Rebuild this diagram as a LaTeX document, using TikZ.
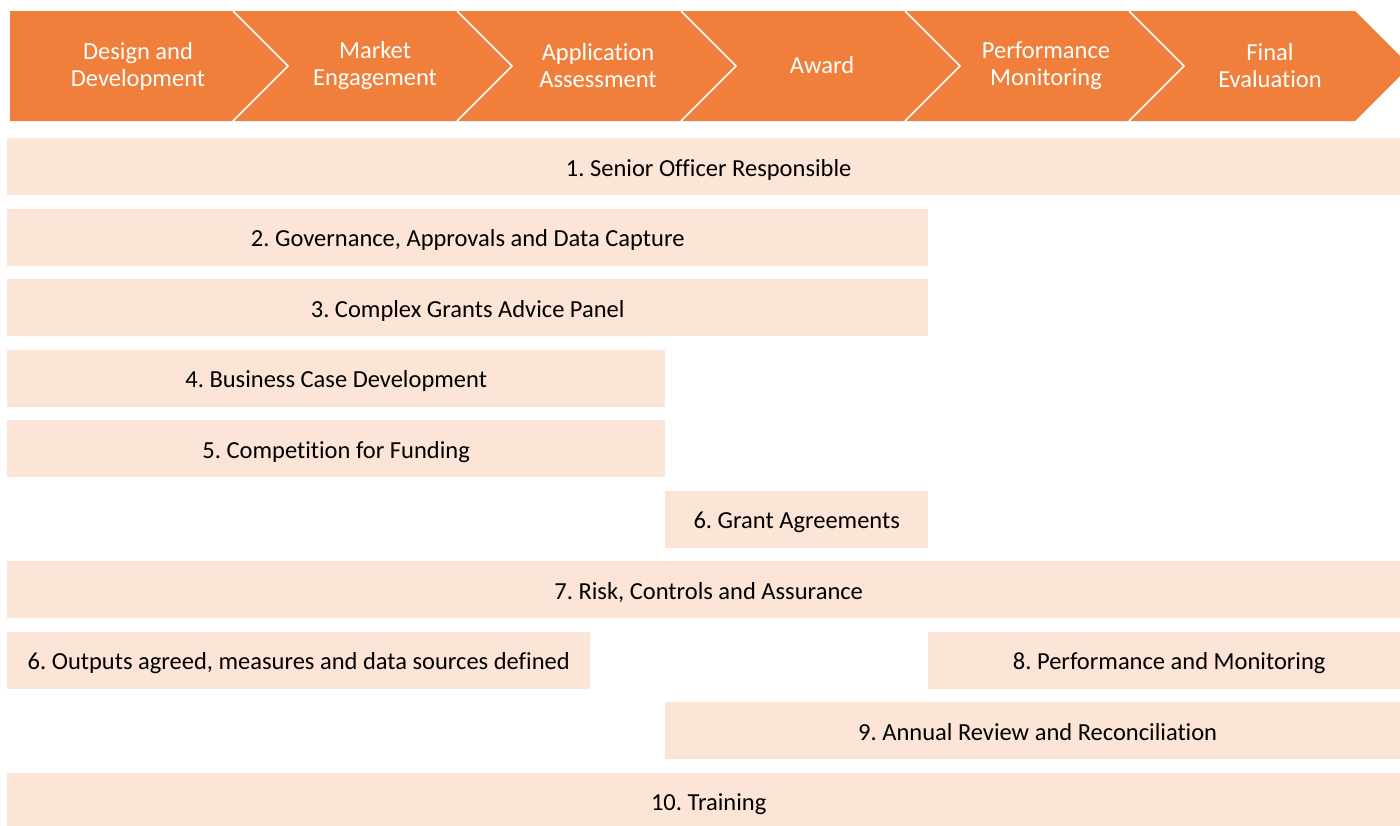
\documentclass[tikz,border=0pt]{standalone}
\usepackage{fontspec}
\setmainfont[Ligatures=NoCommon]{Carlito}
\frenchspacing
\definecolor{orng}{RGB}{240,127,60}
\definecolor{peach}{RGB}{252,228,214}
\begin{document}
\begin{tikzpicture}[x=1pt,y=-1pt,
  bar/.style={fill=peach, draw=none, anchor=north west, inner sep=0pt, minimum height=57pt, text height=19pt, text depth=0pt, font=\fontsize{24.5}{29}\selectfont, text=black},
  phase/.style={text=white, align=center, inner sep=0pt, font=\fontsize{24.5}{27}\selectfont},
  sep/.style={draw=white, line width=1.5pt}]
\useasboundingbox (0,0) rectangle (1400,825);
\clip (0,0) rectangle (1400,825);
% chevron band
\fill[orng] (10,11) -- (1355,11) -- (1410,66) -- (1355,121) -- (10,121) -- cycle;
\foreach \b in {233,457,681,905,1129} \draw[sep] (\b,11) -- (\b+55,66) -- (\b,121);
\node[phase] (p1) at (138,66) {Design and\\Development};
\node[phase] (p2) at (375,66) {Market\\Engagement};
\node[phase] (p3) at (598,66) {Application\\Assessment};
\node[phase] (p4) at (822,65) {Award};
\node[phase] (p5) at (1046,66) {Performance\\Monitoring};
\node[phase] (p6) at (1270,66) {Final\\Evaluation};
% bars
\node[bar, minimum width=1403pt] (r1) at (7,138) {1. Senior Officer Responsible};
\node[bar, minimum width=921pt] (r2) at (7,208.5) {2. Governance, Approvals and Data Capture};
\node[bar, minimum width=921pt] (r3) at (7,279) {3. Complex Grants Advice Panel};
\node[bar, minimum width=658pt] (r4) at (7,349.5) {4. Business Case Development};
\node[bar, minimum width=658pt] (r5) at (7,420) {5. Competition for Funding};
\node[bar, minimum width=263pt] (r6) at (665,490.5) {6. Grant Agreements};
\node[bar, minimum width=1403pt] (r7) at (7,561) {7. Risk, Controls and Assurance};
\node[bar, minimum width=583pt] (r8a) at (7,631.5) {6. Outputs agreed, measures and data sources defined};
\node[bar, minimum width=482pt] (r8b) at (928,631.5) {8. Performance and Monitoring};
\node[bar, minimum width=745pt] (r9) at (665,702) {9. Annual Review and Reconciliation};
\node[bar, minimum width=1403pt] (r10) at (7,772.5) {10. Training};
\end{tikzpicture}
\end{document}
